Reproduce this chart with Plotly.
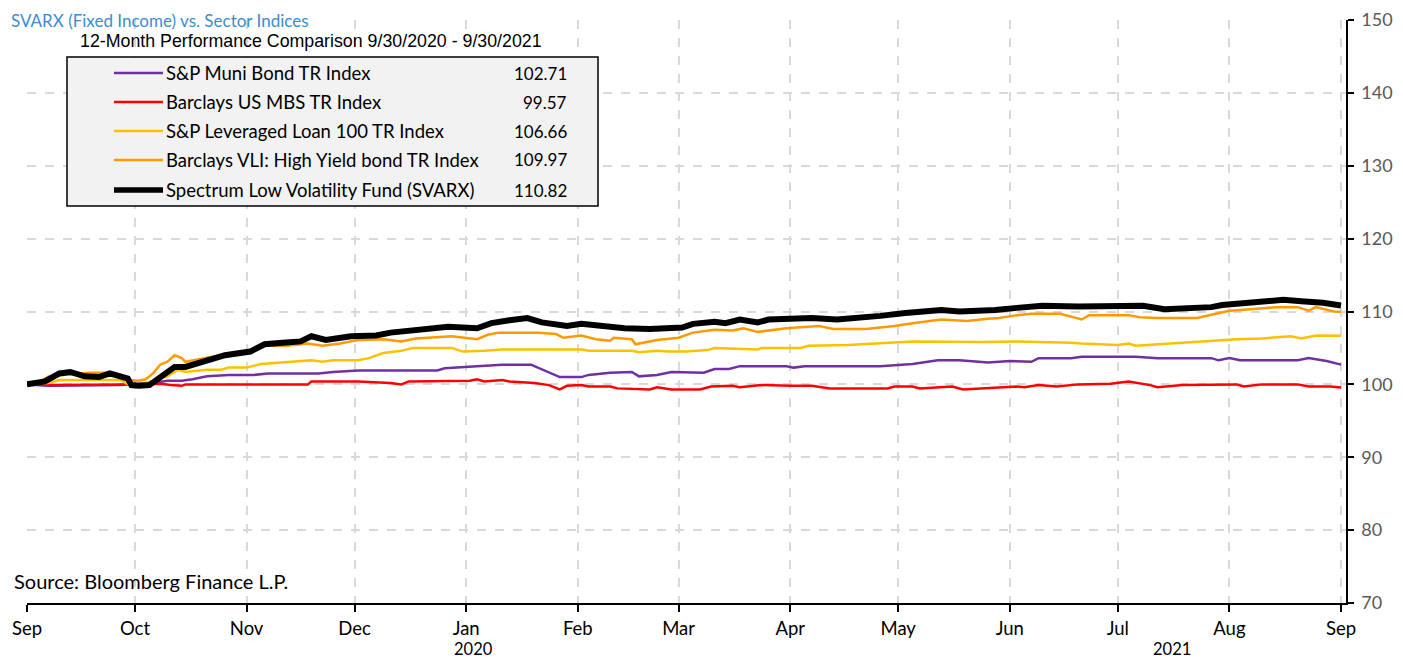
import pandas as pd
import plotly.graph_objects as go

# ---------------- data ----------------
START = pd.Timestamp("2020-09-01")
month_labels = ["Sep", "Oct", "Nov", "Dec", "Jan", "Feb", "Mar", "Apr", "May", "Jun", "Jul", "Aug", "Sep"]
year_labels = ["2020", "2021"]

series_names = [
    "S&P Muni Bond TR Index",
    "Barclays US MBS TR Index",
    "S&P Leveraged Loan 100 TR Index",
    "Barclays VLI: High Yield bond TR Index",
    "Spectrum Low Volatility Fund (SVARX)",
]
end_values = ["102.71", "99.57", "106.66", "109.97", "110.82"]

# days since 2020-09-01
muni_day = [0, 6, 26, 35, 39, 43, 46, 50, 56, 63, 67, 81, 85, 92, 114, 116, 125, 132, 140, 143,
            148, 154, 156, 162, 168, 170, 175, 179, 188, 191, 195, 198, 211, 213, 216, 237, 246, 253, 259, 267,
            273, 279, 281, 290, 293, 308, 314, 329, 331, 334, 337, 353, 356, 361, 365]
muni_val = [100.0, 99.8, 99.9, 100.2, 100.5, 100.5, 100.7, 101.1, 101.3, 101.3, 101.5, 101.5, 101.7, 101.9, 101.9, 102.2, 102.5, 102.7, 102.7, 102.1,
            101.0, 101.0, 101.3, 101.6, 101.7, 101.1, 101.3, 101.7, 101.6, 102.1, 102.1, 102.5, 102.5, 102.3, 102.5, 102.5, 102.8, 103.3, 103.3, 103.0,
            103.2, 103.1, 103.6, 103.6, 103.8, 103.8, 103.6, 103.6, 103.3, 103.6, 103.3, 103.3, 103.6, 103.2, 102.71]

mbs_day = [0, 7, 26, 37, 40, 43, 44, 78, 79, 92, 101, 104, 106, 123, 125, 127, 132, 134, 141, 145,
           148, 150, 154, 156, 162, 164, 173, 175, 179, 187, 190, 196, 198, 204, 212, 218, 223, 239, 241, 246,
           248, 257, 260, 265, 270, 275, 277, 281, 286, 292, 301, 306, 312, 314, 321, 331, 336, 338, 343, 353,
           356, 362, 365]
mbs_val = [100.0, 99.9, 100.0, 100.1, 99.9, 99.8, 100.0, 100.0, 100.4, 100.4, 100.2, 100.0, 100.4, 100.5, 100.7, 100.4, 100.6, 100.4, 100.2, 99.9,
           99.3, 99.8, 99.9, 99.7, 99.7, 99.45, 99.3, 99.6, 99.3, 99.3, 99.7, 99.8, 99.6, 99.9, 99.8, 99.8, 99.45, 99.45, 99.7, 99.7,
           99.45, 99.7, 99.3, 99.4, 99.6, 99.7, 99.6, 99.9, 99.7, 100.0, 100.1, 100.4, 99.9, 99.6, 99.9, 100.0, 100.0, 99.7, 100.0, 100.0,
           99.7, 99.7, 99.57]

loan_day = [0, 6, 9, 15, 22, 26, 28, 31, 35, 39, 42, 44, 50, 54, 56, 61, 65, 72, 79, 82,
            85, 92, 95, 99, 104, 107, 118, 121, 127, 132, 154, 156, 168, 170, 175, 178, 183, 189, 191, 203,
            204, 215, 217, 228, 237, 246, 265, 275, 290, 293, 303, 306, 308, 318, 329, 336, 343, 351, 354, 358,
            365]
loan_val = [100.0, 100.2, 100.6, 100.6, 100.5, 100.6, 100.0, 99.9, 100.5, 101.1, 102.0, 101.7, 102.0, 102.0, 102.3, 102.3, 102.8, 103.1, 103.3, 103.1,
            103.3, 103.3, 103.6, 104.3, 104.6, 105.0, 105.0, 104.5, 104.6, 104.8, 104.8, 104.6, 104.6, 104.4, 104.6, 104.5, 104.5, 104.7, 105.0, 104.8,
            105.0, 105.0, 105.3, 105.4, 105.6, 105.9, 105.8, 105.9, 105.7, 105.6, 105.4, 105.6, 105.3, 105.6, 105.9, 106.2, 106.3, 106.6, 106.3, 106.7,
            106.66]

hy_day = [0, 4, 6, 10, 13, 17, 22, 26, 28, 31, 33, 35, 37, 39, 41, 43, 44, 50, 56, 62,
          66, 72, 78, 82, 87, 92, 99, 104, 108, 118, 125, 128, 131, 142, 147, 149, 154, 158, 162, 163,
          168, 169, 175, 181, 185, 191, 196, 199, 203, 211, 220, 224, 233, 241, 246, 254, 261, 267, 270, 275,
          279, 287, 290, 293, 295, 306, 309, 314, 325, 329, 334, 340, 347, 353, 356, 358, 363, 365]
hy_val = [100.0, 100.5, 101.1, 101.3, 101.5, 101.6, 101.6, 101.3, 100.6, 100.5, 100.7, 101.5, 102.7, 103.1, 104.0, 103.6, 103.1, 103.6, 104.2, 104.5,
          105.3, 105.3, 105.6, 105.3, 105.6, 106.1, 106.2, 105.9, 106.3, 106.6, 106.2, 106.8, 107.1, 107.1, 106.9, 106.4, 106.7, 106.2, 106.0, 106.4,
          106.2, 105.5, 106.1, 106.4, 107.1, 107.5, 107.4, 107.7, 107.2, 107.7, 108.0, 107.6, 107.6, 108.0, 108.4, 108.9, 108.7, 109.0, 109.1, 109.5,
          109.7, 109.7, 109.3, 108.9, 109.5, 109.5, 109.2, 109.1, 109.1, 109.5, 110.1, 110.3, 110.6, 110.6, 110.1, 110.6, 110.0, 109.97]

svarx_day = [0, 5, 9, 12, 16, 20, 23, 26, 28, 29, 31, 34, 37, 41, 44, 50, 55, 62, 66, 71,
             76, 79, 83, 90, 97, 101, 106, 112, 117, 125, 129, 134, 139, 143, 147, 150, 154, 160, 166, 173,
             179, 182, 185, 191, 194, 198, 203, 206, 212, 218, 225, 229, 237, 244, 250, 254, 259, 265, 269, 275,
             282, 292, 301, 310, 316, 323, 329, 332, 338, 343, 349, 354, 360, 365]
svarx_val = [100.0, 100.4, 101.5, 101.7, 101.1, 101.0, 101.5, 101.1, 100.8, 99.9, 99.8, 99.9, 101.0, 102.4, 102.4, 103.2, 104.0, 104.5, 105.5, 105.7,
             105.9, 106.6, 106.1, 106.6, 106.7, 107.1, 107.4, 107.6, 107.9, 107.7, 108.4, 108.8, 109.1, 108.5, 108.3, 108.0, 108.3, 107.9, 107.7, 107.6,
             107.7, 107.8, 108.3, 108.6, 108.4, 108.9, 108.5, 108.9, 109.0, 109.1, 108.9, 109.0, 109.4, 109.8, 110.0, 110.2, 110.0, 110.0, 110.2, 110.5,
             110.8, 110.7, 110.8, 110.8, 110.3, 110.5, 110.6, 110.9, 111.2, 111.4, 111.6, 111.4, 111.2, 110.82]

# ---------------- styling ----------------
colors = ["#7030A0", "#FF0000", "#FFC000", "#FF9900", "#000000"]
widths = [2.5, 2.5, 2.5, 2.5, 6]
FONT = "Lato, 'Open Sans', sans-serif"

OFF = 8                      # page body margin (on every side)
PAGE_W, PAGE_H = 1403, 668
W, H = PAGE_W - 2 * OFF, PAGE_H - 2 * OFF   # avoid scrollbars
# plot area in page pixels (reference coordinates)
L, R, T, B = 27, 1346, 20, 603


def px(x):
    return (x - L) / (R - L)


def py(y):
    return (B - y) / (B - T)


def to_dates(days):
    return START + pd.to_timedelta(days, unit="D")


all_days = [muni_day, mbs_day, loan_day, hy_day, svarx_day]
all_vals = [muni_val, mbs_val, loan_val, hy_val, svarx_val]

fig = go.Figure()
for name, d, v, c, w in zip(series_names, all_days, all_vals, colors, widths):
    fig.add_trace(go.Scatter(x=to_dates(d), y=v, mode="lines", name=name,
                             line=dict(color=c, width=w), showlegend=False))

tick_dates = pd.date_range("2020-09-01", "2021-09-01", freq="MS")
x_end = START + pd.Timedelta(days=(R - L) / 3.6)

fig.update_layout(
    width=W, height=H, autosize=False,
    margin=dict(l=L - OFF, r=(W + OFF) - R, t=T - OFF, b=(H + OFF) - B),
    paper_bgcolor="white", plot_bgcolor="white",
    font=dict(family=FONT, color="black"),
    xaxis=dict(
        range=[START, x_end], tickvals=tick_dates, ticktext=month_labels,
        showgrid=True, gridcolor="#D9D9D9", griddash="dash", gridwidth=1.5,
        showline=True, linecolor="black", linewidth=1.5,
        ticks="outside", ticklen=7, tickcolor="black", tickwidth=1.5,
        tickfont=dict(size=18.5, family=FONT, color="black"),
        ticklabelstandoff=1, zeroline=False, automargin=False,
        ticklabeloverflow="allow",
    ),
    yaxis=dict(
        range=[70, 150], dtick=10, side="right",
        showgrid=True, gridcolor="#D9D9D9", griddash="dash", gridwidth=1.5,
        showline=True, linecolor="black", linewidth=1.5,
        ticks="outside", ticklen=6, tickcolor="black", tickwidth=1.5,
        tickfont=dict(size=18, family=FONT, color="#595959"),
        ticklabelstandoff=4, zeroline=False, automargin=False,
        ticklabeloverflow="allow",
    ),
)

annotations = []
# title
annotations.append(dict(text="SVARX (Fixed Income) vs. Sector Indices", xref="paper", yref="paper",
                        x=px(OFF + 2), y=py(OFF + 1), xanchor="left", yanchor="top", showarrow=False, borderpad=0,
                        font=dict(size=17, color="#3A8DD0", family=FONT)))
# subtitle
annotations.append(dict(text="12-Month Performance Comparison 9/30/2020 - 9/30/2021", xref="paper", yref="paper",
                        x=px(78), y=py(41), xanchor="left", yanchor="middle", showarrow=False,
                        font=dict(size=17.8, color="black",
                                  family="'Liberation Sans Narrow', 'Liberation Sans', Arial, sans-serif")))
# source
annotations.append(dict(text="Source: Bloomberg Finance L.P.", xref="paper", yref="paper",
                        x=px(12), y=py(581), xanchor="left", yanchor="middle", showarrow=False,
                        font=dict(size=20, color="black", family=FONT)))
# year labels (second level of the date axis)
annotations.append(dict(text=year_labels[0], xref="x", yref="paper", x=tick_dates[4] + pd.Timedelta(days=2),
                        y=py(H + OFF), xanchor="center", yanchor="bottom", showarrow=False, borderpad=0,
                        font=dict(size=16.5, color="black", family=FONT)))
annotations.append(dict(text=year_labels[1], xref="x", yref="paper", x=tick_dates[10] + pd.Timedelta(days=15),
                        y=py(H + OFF), xanchor="center", yanchor="bottom", showarrow=False, borderpad=0,
                        font=dict(size=16.5, color="black", family=FONT)))

shapes = []
# legend box
shapes.append(dict(type="rect", xref="paper", yref="paper", x0=px(67), x1=px(598), y0=py(206), y1=py(57),
                   fillcolor="#F2F2F2", line=dict(color="black", width=1.5), layer="above"))
row_y = [73, 102, 131, 160, 190]
for i, (name, val, c) in enumerate(zip(series_names, end_values, colors)):
    lw = 5.5 if i == 4 else 2.5
    shapes.append(dict(type="line", xref="paper", yref="paper", x0=px(114), x1=px(163),
                       y0=py(row_y[i]), y1=py(row_y[i]), line=dict(color=c, width=lw), layer="above"))
    annotations.append(dict(text=name, xref="paper", yref="paper", x=px(164), y=py(row_y[i]),
                            xanchor="left", yanchor="middle", showarrow=False,
                            font=dict(size=18.5, color="black", family=FONT)))
    annotations.append(dict(text=val, xref="paper", yref="paper", x=px(569), y=py(row_y[i]),
                            xanchor="right", yanchor="middle", showarrow=False,
                            font=dict(size=17, color="black", family=FONT)))

fig.update_layout(annotations=annotations, shapes=shapes)
fig.write_html("out.html")
